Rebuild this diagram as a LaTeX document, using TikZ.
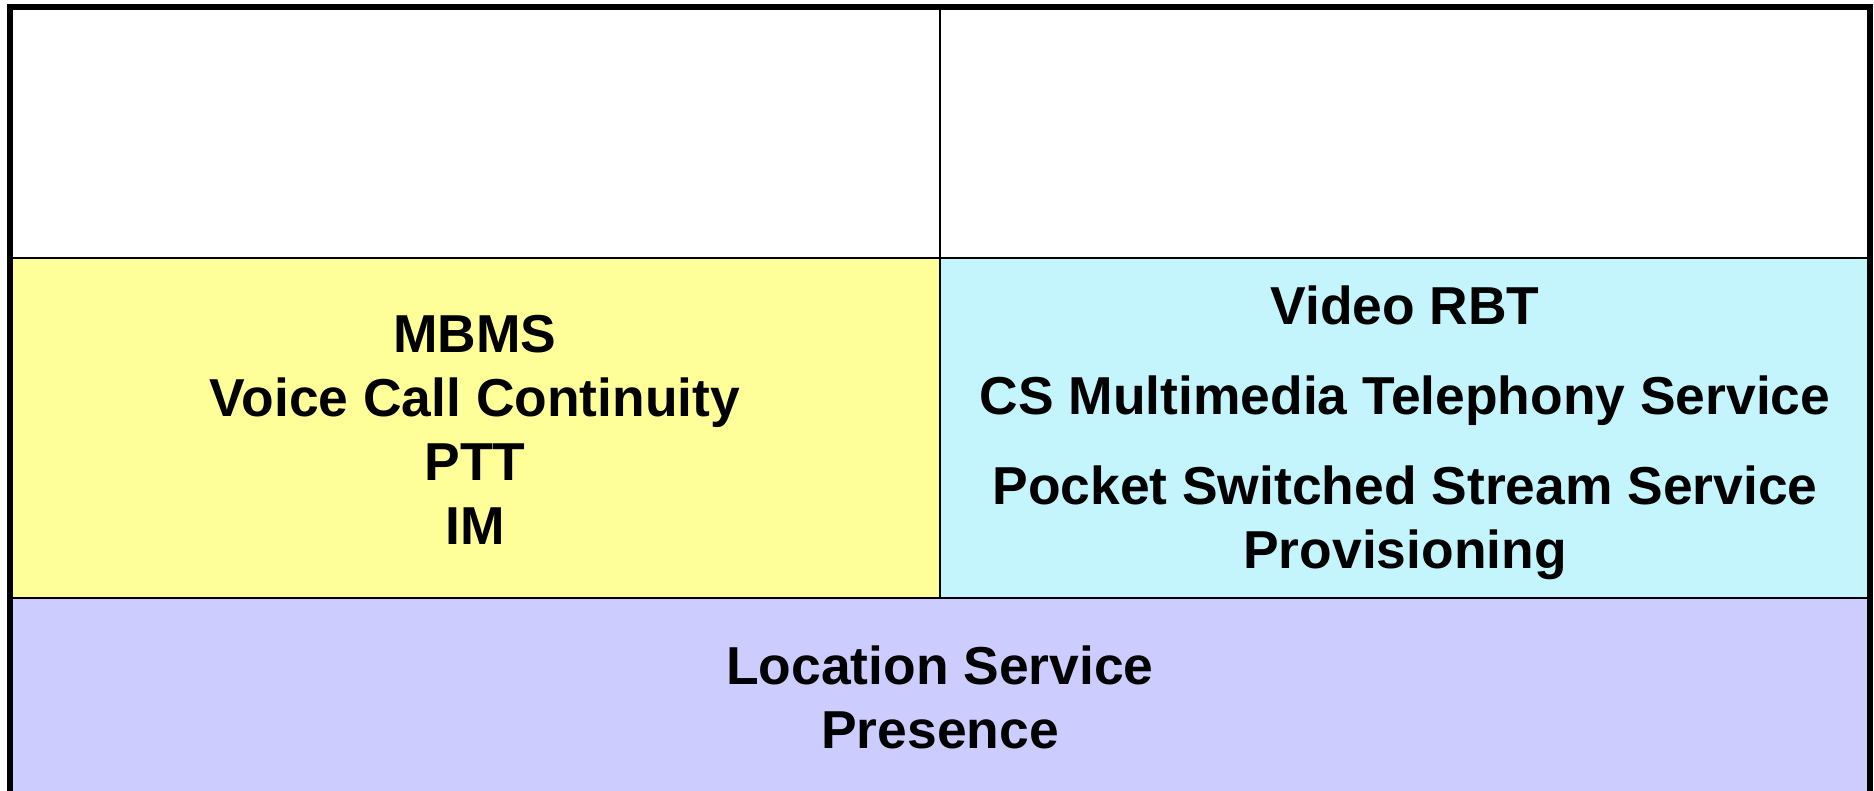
\documentclass[tikz,border=0pt]{standalone}
\usepackage{fontspec}
\setmainfont{Liberation Sans}
\definecolor{groupyellow}{RGB}{255,255,153}
\definecolor{streamcyan}{RGB}{196,244,252}
\definecolor{baselilac}{RGB}{204,204,255}

\begin{document}
\begin{tikzpicture}[x=0.5pt,y=-0.5pt,
		divider/.style={draw=black,line width=1.1pt},
		service/.style={font=\fontsize{26.7}{32}\selectfont\bfseries,align=center,inner sep=0pt}]
		\clip (0,0) rectangle (1874,791);
		\fill[white] (0,0) rectangle (1874,791);
		% cells
		\fill[groupyellow] (10,258) rectangle (940,598);
		\fill[streamcyan] (940,258) rectangle (1870,598);
		\fill[baselilac] (10,598) rectangle (1870,800);
		\draw[divider] (940,7) -- (940,598);
		\draw[divider] (10,258) -- (1870,258);
		\draw[divider] (10,598) -- (1870,598);
		\draw[line width=3pt] (10,7) rectangle (1870,794);
		% texts
		\node[service] (groupsvc) at (475,430) {MBMS\\Voice Call Continuity\\PTT\\IM};
		\node[service] (streamsvc) at (1405,433) {Video RBT\\[13pt]CS Multimedia Telephony Service\\[13pt]Pocket Switched Stream Service\\Provisioning};
		\node[service] (basesvc) at (940,697) {Location Service\\Presence};
	\end{tikzpicture}
\end{document}
